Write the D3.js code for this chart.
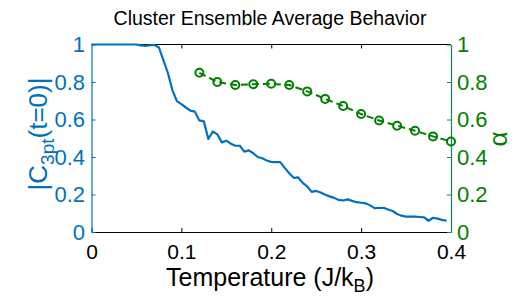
<!DOCTYPE html>
<html><head><meta charset="utf-8">
<script src="https://cdn.jsdelivr.net/npm/d3@7"></script>
<style>body{margin:0;background:#fff}svg{display:block}text{font-family:"Liberation Sans",Arial,sans-serif}</style>
</head><body><svg id="c" width="521" height="297"></svg>
<script>
const title = "Cluster Ensemble Average Behavior";
const xTicks = [0, 0.1, 0.2, 0.3, 0.4];
const yTicks = [0, 0.2, 0.4, 0.6, 0.8, 1];
const tempBlue = d3.range(80).map(i => +(i * 0.005).toFixed(3));
const c3pt = [1,1,1,1,1,1,1,1,1,1,1,0.995,0.993,0.996,0.998,0.984,0.917,0.848,0.757,0.698,
  0.682,0.664,0.647,0.642,0.595,0.590,0.496,0.536,0.521,0.478,0.487,0.471,0.460,0.460,0.429,0.435,0.420,0.400,0.393,0.381,
  0.374,0.373,0.373,0.342,0.313,0.289,0.291,0.262,0.243,0.214,0.219,0.211,0.199,0.190,0.182,0.171,0.168,0.174,0.166,0.159,
  0.156,0.153,0.142,0.127,0.128,0.129,0.120,0.112,0.096,0.087,0.082,0.082,0.082,0.080,0.078,0.060,0.076,0.071,0.065,0.060];
const tempGreen = [0.12,0.14,0.16,0.18,0.20,0.22,0.24,0.26,0.28,0.30,0.32,0.34,0.36,0.38,0.40];
const alpha = [0.849,0.800,0.784,0.788,0.791,0.784,0.750,0.710,0.672,0.629,0.595,0.567,0.540,0.510,0.483];

const blue = "#0072BD", green = "#008000", greenAxis = "#12845a";
const svg = d3.select("#c");
const L = 91.5, R = 451, T = 44.5, B = 232;
const x = d3.scaleLinear().domain([0, 0.4]).range([L, R]);
const y = d3.scaleLinear().domain([0, 1]).range([B, T]);
const fmt = d => d === 0 || d === 1 ? String(d) : d3.format(".1f")(d);

svg.append("line").attr("x1", L).attr("x2", R).attr("y1", T).attr("y2", T).attr("stroke", "#000").attr("stroke-width", 1);
const gx = svg.append("g").attr("transform", `translate(0,${B})`)
  .call(d3.axisBottom(x).tickValues(xTicks).tickFormat(fmt).tickSizeInner(-4).tickSizeOuter(0).tickPadding(12.5));
gx.select(".domain").attr("stroke", "#000");
gx.selectAll(".tick line").attr("stroke", "#000");
gx.selectAll(".tick text").attr("font-size", 21).attr("fill", "#000");
const gt = svg.append("g").attr("transform", `translate(0,${T})`)
  .call(d3.axisTop(x).tickValues(xTicks.slice(1, 4)).tickFormat("").tickSizeInner(-4).tickSizeOuter(0));
gt.select(".domain").remove();
gt.selectAll(".tick line").attr("stroke", "#000");

const gl = svg.append("g").attr("transform", `translate(${L},0)`)
  .call(d3.axisLeft(y).tickValues(yTicks).tickFormat(fmt).tickSizeInner(-4).tickSizeOuter(0).tickPadding(6.5));
gl.select(".domain").attr("stroke", blue).attr("stroke-width", 1.2);
gl.selectAll(".tick line").attr("stroke", blue);
gl.selectAll(".tick text").attr("font-size", 22).attr("fill", blue);

const gr = svg.append("g").attr("transform", `translate(${R},0)`)
  .call(d3.axisRight(y).tickValues(yTicks).tickFormat(fmt).tickSizeInner(-4).tickSizeOuter(0).tickPadding(6));
gr.select(".domain").attr("stroke", greenAxis).attr("stroke-width", 1.2);
gr.selectAll(".tick line").attr("stroke", greenAxis);
gr.selectAll(".tick text").attr("font-size", 22).attr("fill", green);

svg.append("path").datum(tempBlue.map((t, i) => [t, c3pt[i]]))
  .attr("fill", "none").attr("stroke", blue).attr("stroke-width", 2.2).attr("stroke-linejoin", "round")
  .attr("d", d3.line().x(d => x(d[0])).y(d => y(d[1])));

svg.append("path").datum(tempGreen.map((t, i) => [t, alpha[i]]))
  .attr("fill", "none").attr("stroke", green).attr("stroke-width", 2).attr("stroke-dasharray", "7,4")
  .attr("d", d3.line().x(d => x(d[0])).y(d => y(d[1])));
svg.append("g").selectAll("circle").data(tempGreen.map((t, i) => [t, alpha[i]])).join("circle")
  .attr("cx", d => x(d[0])).attr("cy", d => y(d[1])).attr("r", 4)
  .attr("fill", "none").attr("stroke", green).attr("stroke-width", 2);

svg.append("text").attr("x", 270).attr("y", 25).attr("text-anchor", "middle").attr("font-size", 19.5).attr("fill", "#000").text(title);

const xl = svg.append("text").attr("x", 270).attr("y", 286).attr("text-anchor", "middle").attr("font-size", 25).attr("fill", "#000");
xl.append("tspan").text("Temperature (J/k");
xl.append("tspan").attr("font-size", 18).attr("dy", 6).text("B");
xl.append("tspan").attr("dy", -6).text(")");

const yl = svg.append("text").attr("transform", `translate(47,134) rotate(-90)`).attr("text-anchor", "middle").attr("font-size", 26).attr("fill", blue);
yl.append("tspan").text("|C");
yl.append("tspan").attr("font-size", 19).attr("dy", 7).text("3pt");
yl.append("tspan").attr("dy", -7).text("(t=0)|");

svg.append("text").attr("transform", `translate(507,139) rotate(-90)`).attr("text-anchor", "middle").attr("font-size", 26).attr("fill", green).text("α");
</script></body></html>
